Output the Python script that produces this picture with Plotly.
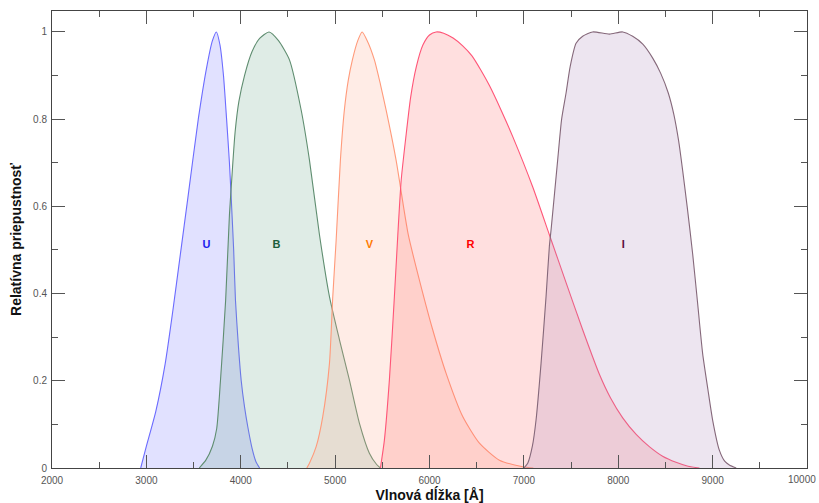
import plotly.graph_objects as go

# ---- data ----
u_wl = [2940, 3000, 3100, 3200, 3280, 3360, 3440, 3550, 3640, 3700, 3742, 3780, 3817, 3850, 3880, 3900, 3925, 3944, 3975, 4005, 4040, 4075, 4120, 4160, 4200]
u_t  = [0, 0.05, 0.13, 0.24, 0.36, 0.49, 0.62, 0.8, 0.92, 0.98, 1.0, 0.97, 0.9, 0.8, 0.7, 0.615, 0.5, 0.385, 0.28, 0.2, 0.14, 0.094, 0.045, 0.015, 0]

b_wl = [3560, 3630, 3700, 3745, 3785, 3840, 3880, 3910, 3940, 3980, 4040, 4120, 4200, 4300, 4400, 4516, 4640, 4728, 4834, 4940, 5046, 5151, 5257, 5363, 5440, 5480]
b_t  = [0, 0.018, 0.05, 0.09, 0.2, 0.385, 0.58, 0.68, 0.77, 0.84, 0.9, 0.955, 0.985, 1.0, 0.98, 0.936, 0.821, 0.706, 0.535, 0.393, 0.294, 0.202, 0.103, 0.034, 0.008, 0]

v_wl = [4700, 4728, 4799, 4869, 4940, 4975, 5011, 5056, 5098, 5140, 5183, 5240, 5286, 5340, 5416, 5480, 5540, 5646, 5775, 5893, 6034, 6176, 6352, 6529, 6741, 6988, 7100]
v_t  = [0, 0.011, 0.049, 0.118, 0.24, 0.393, 0.523, 0.706, 0.821, 0.89, 0.936, 0.98, 1.0, 0.98, 0.936, 0.88, 0.821, 0.706, 0.535, 0.431, 0.317, 0.217, 0.118, 0.057, 0.018, 0.003, 0]

r_wl = [5480, 5522, 5575, 5628, 5663, 5700, 5750, 5800, 5860, 5930, 6000, 6070, 6150, 6250, 6352, 6450, 6545, 6635, 6760, 6882, 7093, 7270, 7447, 7623, 7800, 7920, 8047, 8190, 8329, 8470, 8612, 8740, 8860]
r_t  = [0, 0.064, 0.202, 0.393, 0.53, 0.66, 0.76, 0.85, 0.92, 0.97, 0.993, 1.0, 0.997, 0.986, 0.968, 0.945, 0.912, 0.877, 0.82, 0.76, 0.645, 0.535, 0.425, 0.317, 0.215, 0.16, 0.115, 0.077, 0.049, 0.027, 0.013, 0.004, 0]

i_wl = [7000, 7041, 7090, 7129, 7182, 7235, 7270, 7290, 7358, 7400, 7447, 7490, 7553, 7623, 7729, 7906, 8047, 8153, 8260, 8365, 8450, 8530, 8590, 8640, 8682, 8730, 8788, 8840, 8894, 8950, 9000, 9071, 9130, 9177, 9250]
i_t  = [0, 0.011, 0.05, 0.11, 0.24, 0.393, 0.508, 0.55, 0.706, 0.8, 0.86, 0.92, 0.974, 0.99, 1.0, 0.995, 1.0, 0.99, 0.972, 0.94, 0.905, 0.86, 0.81, 0.75, 0.683, 0.6, 0.492, 0.38, 0.263, 0.18, 0.11, 0.041, 0.015, 0.007, 0]

band_names = ["U", "B", "V", "R", "I"]
label_x = [3636, 4378, 5363, 6434, 8054]
label_y = [0.51, 0.51, 0.51, 0.51, 0.51]

x_ticks = [2000, 3000, 4000, 5000, 6000, 7000, 8000, 9000, 10000]
x_tick_text = ["2000", "3000", "4000", "5000", "6000", "7000", "8000", "9000", "10000"]
y_ticks = [0, 0.2, 0.4, 0.6, 0.8, 1]
y_tick_text = ["0", "0.2", "0.4", "0.6", "0.8", "1"]

# ---- styles ----
line_colors = ["#6b6bff", "#5f8d70", "#ff9a7a", "#ff5577", "#85687a"]
fill_colors = ["rgba(120,120,255,0.22)", "rgba(110,170,140,0.22)", "rgba(255,170,140,0.22)",
               "rgba(255,110,110,0.22)", "rgba(175,135,185,0.22)"]
label_colors = ["#2020ee", "#1b5e3c", "#ff7a00", "#ff0000", "#5a0a3c"]
tick_font = dict(family="Liberation Sans, Arial, sans-serif", size=10, color="#555555")

series = [(u_wl, u_t), (b_wl, b_t), (v_wl, v_t), (r_wl, r_t), (i_wl, i_t)]

fig = go.Figure()
for k, (wl, t) in enumerate(series):
    fig.add_trace(go.Scatter(
        x=wl, y=t, mode="lines", name=band_names[k],
        line=dict(color=line_colors[k], width=1.1, shape="spline", smoothing=0.6),
        fill="tozeroy", fillcolor=fill_colors[k], showlegend=False,
    ))

fig.add_trace(go.Scatter(
    x=label_x, y=label_y, mode="text",
    text=["<b>%s</b>" % n for n in band_names],
    textfont=dict(family="Liberation Sans, Arial, sans-serif", size=11, color=label_colors),
    showlegend=False,
))

axis_common = dict(
    showline=True, linecolor="#444444", linewidth=1, mirror="ticks",
    ticks="inside", ticklen=13, tickcolor="#555555", tickwidth=1,
    showgrid=False, zeroline=False, automargin=False,
    tickfont=tick_font,
)

# last x tick label sits at the page edge: draw it right-anchored so it stays visible
shown_x_text = x_tick_text[:-1] + [""]

fig.update_xaxes(
    range=[2000, 10000], tickvals=x_ticks, ticktext=shown_x_text, ticklabelstandoff=3,
    minor=dict(ticks="inside", ticklen=6, dtick=500, tickcolor="#555555", showgrid=False),
    title=dict(text="<b>Vlnová dĺžka [Å]</b>", font=dict(family="Liberation Sans, Arial, sans-serif", size=14, color="#111111"), standoff=4),
    **axis_common,
)
fig.update_yaxes(
    range=[0, 1.048], tickvals=y_ticks, ticktext=y_tick_text, ticklabelstandoff=2,
    minor=dict(ticks="inside", ticklen=6, dtick=0.1, tickcolor="#555555", showgrid=False),
    title=dict(text="<b>Relatívna priepustnosť</b>", font=dict(family="Liberation Sans, Arial, sans-serif", size=14, color="#111111"), standoff=8),
    **axis_common,
)

fig.add_annotation(
    x=x_ticks[-1], xref="x", y=0, yref="paper", yanchor="top", xanchor="right",
    xshift=11, yshift=-4, text=x_tick_text[-1], showarrow=False, font=tick_font,
)

fig.update_layout(
    width=819, height=503,
    margin=dict(l=52, r=12, t=11, b=35),
    plot_bgcolor="white", paper_bgcolor="white",
)

fig.write_html("out.html")
